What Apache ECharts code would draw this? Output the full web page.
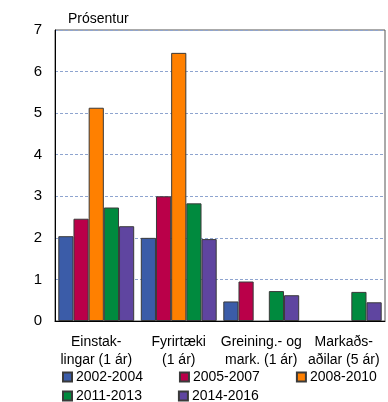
<!DOCTYPE html>
<html>
<head>
<meta charset="utf-8">
<script src="https://cdn.jsdelivr.net/npm/echarts@6/dist/echarts.min.js"></script>
<style>
  html, body { margin: 0; padding: 0; background: #fff; }
  #mychart { width: 388px; height: 402px; }
</style>
</head>
<body>
<div id="mychart"></div>
<script>
// flokkar og gildi (prósentur)
var categories = ['Einstak-\nlingar (1 ár)', 'Fyrirtæki\n(1 ár)', 'Greining.- og\nmark. (1 ár)', 'Markaðs-\naðilar (5 ár)'];
var periods = ['2002-2004', '2005-2007', '2008-2010', '2011-2013', '2014-2016'];
var colors = ['#3B5CA8', '#BA0049', '#FF8000', '#008A3E', '#5F45A0'];

var s2002 = [2.04, 2.00, 0.47, null];
var s2005 = [2.46, 3.00, 0.95, null];
var s2008 = [5.13, 6.45, null, null];
var s2011 = [2.73, 2.83, 0.72, 0.70];
var s2014 = [2.28, 1.97, 0.62, 0.45];
var seriesData = [s2002, s2005, s2008, s2011, s2014];

var yTicks = [0, 1, 2, 3, 4, 5, 6, 7];

var font = 'Liberation Sans';

let myChart = echarts.init(document.getElementById('mychart'));

let series = periods.map(function (p, i) {
  return {
    name: p,
    type: 'bar',
    data: seriesData[i],
    barGap: 0,
    barCategoryGap: '8%',
    itemStyle: { color: colors[i], borderColor: '#3a3a3a', borderWidth: 1 }
  };
});

let legendBase = {
  orient: 'horizontal',
  itemWidth: 9,
  itemHeight: 9,
  itemGap: 36,
  icon: 'rect',
  left: 62,
  padding: 0,
  textStyle: { fontFamily: font, fontSize: 14, color: '#000', padding: [0, 0, 0, -1] }
};

let option = {
  backgroundColor: '#fff',
  animation: false,
  title: {
    text: 'Prósentur',
    left: 63,
    top: 7,
    textStyle: { fontFamily: font, fontSize: 14, fontWeight: 'normal', color: '#000' }
  },
  legend: [
    Object.assign({}, legendBase, { top: 370, data: periods.slice(0, 3) }),
    Object.assign({}, legendBase, { top: 389, data: periods.slice(3) })
  ],
  grid: {
    left: 55, right: 3, top: 30, bottom: 81,
    show: true, borderColor: '#555', borderWidth: 1
  },
  xAxis: {
    type: 'category',
    data: categories,
    axisLine: { lineStyle: { color: '#000', width: 1 } },
    axisTick: { show: false },
    axisLabel: { fontFamily: font, fontSize: 14, color: '#000', margin: 12, lineHeight: 18, interval: 0 }
  },
  yAxis: {
    type: 'value',
    min: yTicks[0],
    max: yTicks[yTicks.length - 1],
    interval: 1,
    axisLine: { show: true, lineStyle: { color: '#000', width: 1 } },
    axisTick: { show: false },
    axisLabel: { fontFamily: font, fontSize: 15, color: '#000', margin: 13 },
    splitLine: { lineStyle: { color: '#8EA4CF', type: [3, 2], width: 1 } }
  },
  series: series
};

myChart.setOption(option, true);
</script>
</body>
</html>
